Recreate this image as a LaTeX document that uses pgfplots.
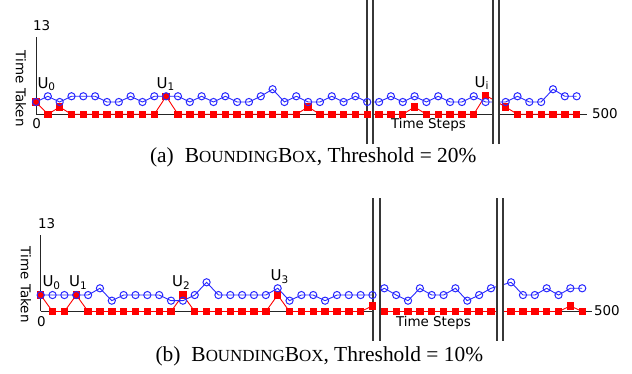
\documentclass[border=0pt]{standalone}
\usepackage{pgfplots}
\pgfplotsset{compat=1.18}
\usepackage{pgfplotstable}
\usepackage{fontspec}
\setmainfont{Liberation Serif}
\newfontfamily\dv{DejaVu Sans}

\definecolor{myblue}{RGB}{40,40,255}
\definecolor{brkc}{RGB}{55,55,55}

\newcommand{\lab}{\dv\fontsize{13.5}{13.5}\selectfont}
\newcommand{\U}[1]{{\dv\fontsize{15}{15}\selectfont U\raisebox{-2.6bp}{\fontsize{10.5}{10.5}\selectfont #1}}}
\newcommand{\capt}[2]{{\fontsize{21.5}{21.5}\selectfont (#1)\hspace{11bp}B{\fontsize{17}{17}\selectfont OUNDING}B{\fontsize{17}{17}\selectfont OX}, Threshold = #2\%}}
\newcommand{\brk}[2]{%
  \fill[white] (axis cs:#1,-5) rectangle (axis cs:#2,19.3);
  \draw[brkc, line width=1.8bp] (axis cs:#1,-5) -- (axis cs:#1,19.3) (axis cs:#2,-5) -- (axis cs:#2,19.3);}

\pgfplotstableread{
x y
0 2.06
1 3.02
2 2.06
3 3.02
4 3.02
5 3.02
6 2.06
7 2.06
8 3.02
9 2.06
10 3.02
11 3.02
12 3.02
13 2.06
14 3.02
15 2.06
16 3.02
17 2.06
18 2.06
19 3.02
20 4.2
21 2.06
22 3.02
23 2.06
24 2.06
25 3.02
26 2.06
27 3.02
28 2.06
29 2.06
30 3.02
31 2.06
32 3.02
33 2.06
34 3.02
35 2.06
36 2.06
37 3.02
38 2.06
39.7 2.06
40.7 3.02
41.7 2.06
42.7 2.06
43.7 4.2
44.7 3.02
45.7 3.02
}\blueA

\pgfplotstableread{
x y
0 2.06
1 0
2 1.22
3 0
4 0
5 0
6 0
7 0
8 0
9 0
10 0
11 3.02
12 0
13 0
14 0
15 0
16 0
17 0
18 0
19 0
20 0
21 0
22 0
23 1.22
24 0
25 0
26 0
27 0
28 0
29 0
30 0
31 0
32 1.22
33 0
34 0
35 0
36 0
37 0
38 3.19
39.7 1.22
40.7 0
41.7 0
42.7 0
43.7 0
44.7 0
45.7 0
}\redA

\pgfplotstableread{
x y
0 2.8
1 2.8
2 2.8
3 2.8
4 2.8
5 3.95
6 1.84
7 2.8
8 2.8
9 2.8
10 2.8
11 1.84
12 1.84
13 2.8
14 4.97
15 2.8
16 2.8
17 2.8
18 2.8
19 2.8
20 3.95
21 1.84
22 2.8
23 2.8
24 1.84
25 2.8
26 2.8
27 2.8
28 2.8
29 3.95
30 2.8
31 1.84
32 3.95
33 2.8
34 2.8
35 3.95
36 1.84
37 2.8
38 3.95
39.7 4.97
40.7 2.8
41.7 2.8
42.7 3.95
43.7 2.8
44.7 3.95
45.7 3.95
}\blueB

\pgfplotstableread{
x y
0 2.8
1 0
2 0
3 2.8
4 0
5 0
6 0
7 0
8 0
9 0
10 0
11 0
12 2.8
13 0
14 0
15 0
16 0
17 0
18 0
19 0
20 2.8
21 0
22 0
23 0
24 0
25 0
26 0
27 0
28 0.94
29 0
30 0
31 0
32 0
33 0
34 0
35 0
36 0
37 0
38 0
39.7 0
40.7 0
41.7 0
42.7 0
43.7 0
44.7 0.94
45.7 0
}\redB

\pgfplotsset{
  myax/.style={scale only axis, axis lines*=left,
    axis line style={-, black!85, line width=1bp},
    xtick=\empty, ytick=\empty, xmin=0, ymin=0, ymax=13,
    clip=false, enlargelimits=false, anchor=south west},
  redl/.style={red, line width=0.9bp, mark=square*, mark size=3.2bp,
    mark options={fill=red, draw=red, solid}},
  bluel/.style={myblue, line width=0.9bp, mark=o, mark size=3.6bp,
    mark options={line width=1bp, solid}},
}

\begin{document}
\begin{tikzpicture}
\begin{axis}[myax, at={(36bp,259.7bp)}, width=551.3bp, height=77.6bp, xmax=46.6]
\addplot[redl] table[x=x,y=y] {\redA};
\addplot[bluel] table[x=x,y=y] {\blueA};
\brk{27.95}{28.46}
\brk{38.6}{39.14}
\end{axis}

\begin{axis}[myax, at={(40.7bp,62.5bp)}, width=551bp, height=76.4bp, xmax=46.5]
\addplot[redl] table[x=x,y=y] {\redB};
\addplot[bluel] table[x=x,y=y] {\blueB};
\brk{28.02}{28.64}
\brk{38.48}{39.04}
\end{axis}

\begin{scope}[x=1bp, y=-1bp, shift={(0,374bp)}, every node/.style={inner sep=0pt, outer sep=0pt}]
% panel a
\node[anchor=base west] at (33,31) {\lab 13};
\node[anchor=base] at (36.7,129) {\lab 0};
\node[anchor=base west] at (592,118.5) {\lab 500};
\node[anchor=base west] at (391,129) {\lab Time Steps};
\node[rotate=-90, anchor=west] at (21,51) {\lab Time Taken};
\node[anchor=base west] at (37.5,88.3) {\U{0}};
\node[anchor=base] at (165.5,88.3) {\U{1}};
\node[anchor=base] at (481.5,87.3) {\U{i}};
\node[anchor=base west] at (150,163) {\capt{a}{20}};
% panel b
\node[anchor=base west] at (38,229) {\lab 13};
\node[anchor=base] at (41.5,326.5) {\lab 0};
\node[anchor=base west] at (594,315.5) {\lab 500};
\node[anchor=base west] at (396,326.5) {\lab Time Steps};
\node[rotate=-90, anchor=west] at (26,247) {\lab Time Taken};
\node[anchor=base west] at (42.5,286.7) {\U{0}};
\node[anchor=base] at (78,286.7) {\U{1}};
\node[anchor=base] at (181,286.7) {\U{2}};
\node[anchor=base] at (279.5,280.7) {\U{3}};
\node[anchor=base west] at (155.5,361.5) {\capt{b}{10}};
\end{scope}
\pgfresetboundingbox
\path[use as bounding box] (0,0) rectangle (632bp,374bp);
\end{tikzpicture}
\end{document}
